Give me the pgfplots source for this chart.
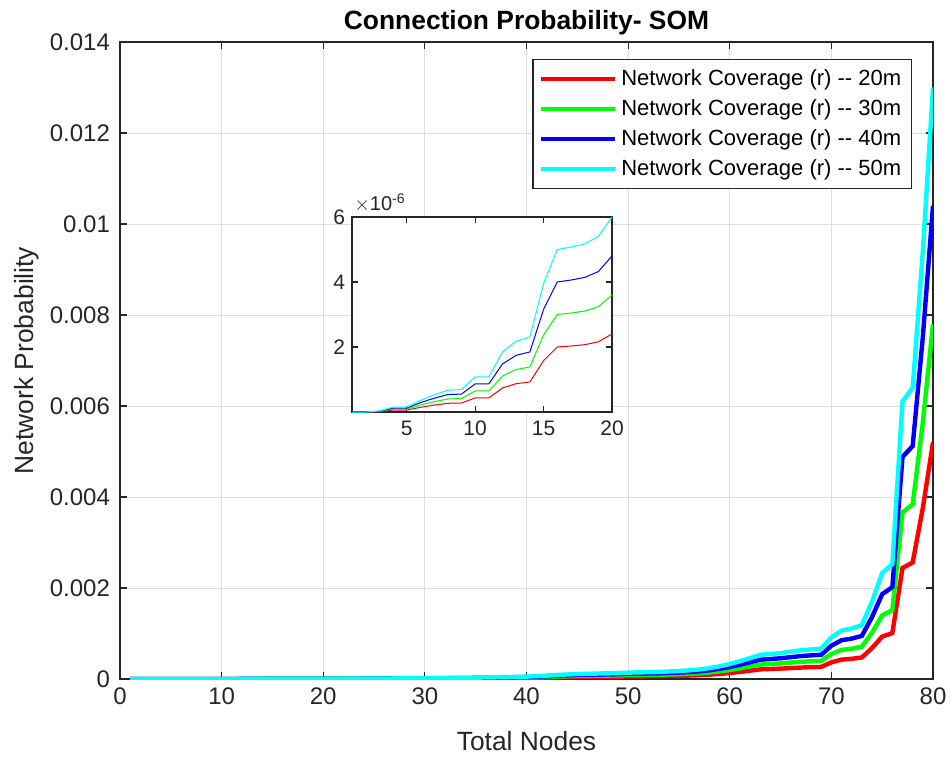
\documentclass[border=0pt]{standalone}
\usepackage{pgfplots}
\pgfplotsset{compat=1.18}
\usepackage{pgfplotstable}
\usepackage{fontspec}
\setmainfont{Liberation Sans}
\definecolor{axgray}{RGB}{38,38,38}
\definecolor{gridgray}{RGB}{222,222,222}
\definecolor{mred}{RGB}{255,0,0}
\definecolor{mgreen}{RGB}{0,255,0}
\definecolor{mblue}{RGB}{0,0,255}
\definecolor{mcyan}{RGB}{0,255,255}
% values in units of 1e-6
\pgfplotstableread{
x r20 r30 r40 r50
1 0 0 0 0
2 0 0 0 0
3 0.012 0.018 0.024 0.03
4 0.06 0.09 0.12 0.15
5 0.06 0.09 0.12 0.15
6 0.144 0.216 0.288 0.36
7 0.212 0.318 0.424 0.53
8 0.268 0.402 0.536 0.67
9 0.276 0.414 0.552 0.69
10 0.432 0.648 0.864 1.08
11 0.432 0.648 0.864 1.08
12 0.74 1.11 1.48 1.85
13 0.872 1.308 1.744 2.18
14 0.924 1.386 1.848 2.31
15 1.58 2.37 3.16 3.95
16 2.0 3.0 4.0 5.0
17 2.03 3.045 4.06 5.075
18 2.07 3.105 4.14 5.175
19 2.16 3.24 4.32 5.4
20 2.4 3.6 4.8 6.0
21 2.6 3.9 5.2 6.5
22 2.9 4.35 5.8 7.25
23 3.1 4.65 6.2 7.75
24 3.6 5.4 7.2 9.0
25 4.0 6.0 8.0 10.0
26 4.4 6.6 8.8 11.0
27 5.0 7.5 10.0 12.5
28 5.6 8.4 11.2 14.0
29 6.2 9.3 12.4 15.5
30 7.0 10.5 14.0 17.5
31 7.8 11.7 15.6 19.5
32 8.6 12.9 17.2 21.5
33 9.6 14.4 19.2 24.0
34 10.8 16.2 21.6 27.0
35 12 18 24 30
36 13.4 20.1 26.8 33.5
37 15 22.5 30 37.5
38 16.8 25.2 33.6 42
39 18.8 28.2 37.6 47
40 21 31.5 42 52.5
41 25 37.5 50 62.5
42 30 45 60 75
43 36 54 72 90
44 40 60 80 100
45 44 66 88 110
46 46 69 92 115
47 48 72 96 120
48 50 75 100 125
49 52 78 104 130
50 56 84 112 140
51 58 87 116 145
52 60 90 120 150
53 62 93 124 155
54 66 99 132 165
55 70 105 140 175
56 76 114 152 190
57 84 126 168 210
58 96 144 192 240
59 112 168 224 280
60 132 198 264 330
61 156 234 312 390
62 184 276 368 460
63 212 318 424 530
64 220 330 440 550
65 228 342 456 570
66 240 360 480 600
67 252 378 504 630
68 260 390 520 650
69 266 399 532 665
70 366 549 732 915
71 426 639 852 1065
72 444 666 888 1110
73 474 711 948 1185
74 680 1020 1360 1700
75 932 1398 1864 2330
76 1010 1515 2020 2525
77 2440 3660 4880 6100
78 2560 3840 5120 6400
79 3760 5640 7520 9400
80 5200 7800 10400 13000
}\datatable

\begin{document}
\begin{tikzpicture}[x=1pt,y=1pt]
\path[use as bounding box] (-60,-38.5) rectangle (415.5,339.5);
\begin{axis}[
  at={(0,0)}, anchor=south west,
  width=406.5pt, height=318.5pt, scale only axis,
  xmin=0, xmax=80, ymin=0, ymax=14000,
  xtick={0,10,...,80},
  ytick={0,2000,4000,6000,8000,10000,12000,14000},
  yticklabels={0,0.002,0.004,0.006,0.008,0.01,0.012,0.014},
  scaled y ticks=false,
  grid=major, grid style={gridgray, line width=0.5pt},
  axis line style={axgray, line width=0.6pt},
  tick style={axgray, line width=0.6pt},
  tick align=inside, major tick length=3.5pt,
  ticklabel style={font=\fontsize{12}{14}\selectfont, text=axgray},
  yticklabel style={xshift=-1.5pt},
  xticklabel style={yshift=-1pt},
  /pgf/number format/assume math mode=true,
  title={\textbf{Connection Probability- SOM}},
  title style={at={(axis description cs:0.5,1.020)}, anchor=base, yshift=-6pt, font=\fontsize{13.2}{16}\selectfont},
  xlabel={Total Nodes}, ylabel={Network Probability},
  xlabel style={at={(axis description cs:0.5,-0.113)}, anchor=base, font=\fontsize{13.2}{16}\selectfont, text=axgray},
  ylabel style={at={(axis description cs:-0.107,0.5)}, anchor=base, font=\fontsize{13.2}{16}\selectfont, text=axgray},
  legend style={at={(0.974,0.973)}, anchor=north east, draw=axgray, line width=0.6pt,
     font=\fontsize{11}{13}\selectfont, text=black, inner xsep=3pt, inner ysep=3pt,
     row sep=1.5pt, nodes={inner sep=2pt}},
  legend cell align=left,
  legend image code/.code={\draw[#1] (0pt,0pt) -- (37pt,0pt);},
]
\addplot[mred, line width=2.2pt] table[x=x,y=r20]{\datatable};
\addlegendentry{Network Coverage (r) -{}- 20m}
\addplot[mgreen, line width=2.2pt] table[x=x,y=r30]{\datatable};
\addlegendentry{Network Coverage (r) -{}- 30m}
\addplot[mblue, line width=2.2pt] table[x=x,y=r40]{\datatable};
\addlegendentry{Network Coverage (r) -{}- 40m}
\addplot[mcyan, line width=2.2pt] table[x=x,y=r50]{\datatable};
\addlegendentry{Network Coverage (r) -{}- 50m}
\end{axis}
\begin{axis}[
  at={(116pt,133.5pt)}, anchor=south west,
  width=130pt, height=97.5pt, scale only axis,
  xmin=1, xmax=20, ymin=0, ymax=6,
  xtick={5,10,15,20}, ytick={2,4,6},
  clip mode=individual,
  axis background/.style={fill=white},
  axis line style={axgray, line width=0.8pt},
  tick style={axgray, line width=0.6pt},
  tick align=inside, major tick length=3pt,
  ticklabel style={font=\fontsize{10.5}{12}\selectfont, text=axgray},
  xticklabel style={yshift=-1pt},
  /pgf/number format/assume math mode=true,
]
\addplot[mred, line width=0.5pt, restrict x to domain=1:20] table[x=x,y=r20]{\datatable};
\addplot[mgreen, line width=0.5pt, restrict x to domain=1:20] table[x=x,y=r30]{\datatable};
\addplot[mblue, line width=0.5pt, restrict x to domain=1:20] table[x=x,y=r40]{\datatable};
\addplot[mcyan, line width=0.5pt, restrict x to domain=1:20] table[x=x,y=r50]{\datatable};
\node[anchor=south west, inner sep=1pt, font=\fontsize{10}{12}\selectfont, text=axgray] at (rel axis cs:0,1.01) {$\times$10\textsuperscript{-6}};
\end{axis}
\end{tikzpicture}
\end{document}
